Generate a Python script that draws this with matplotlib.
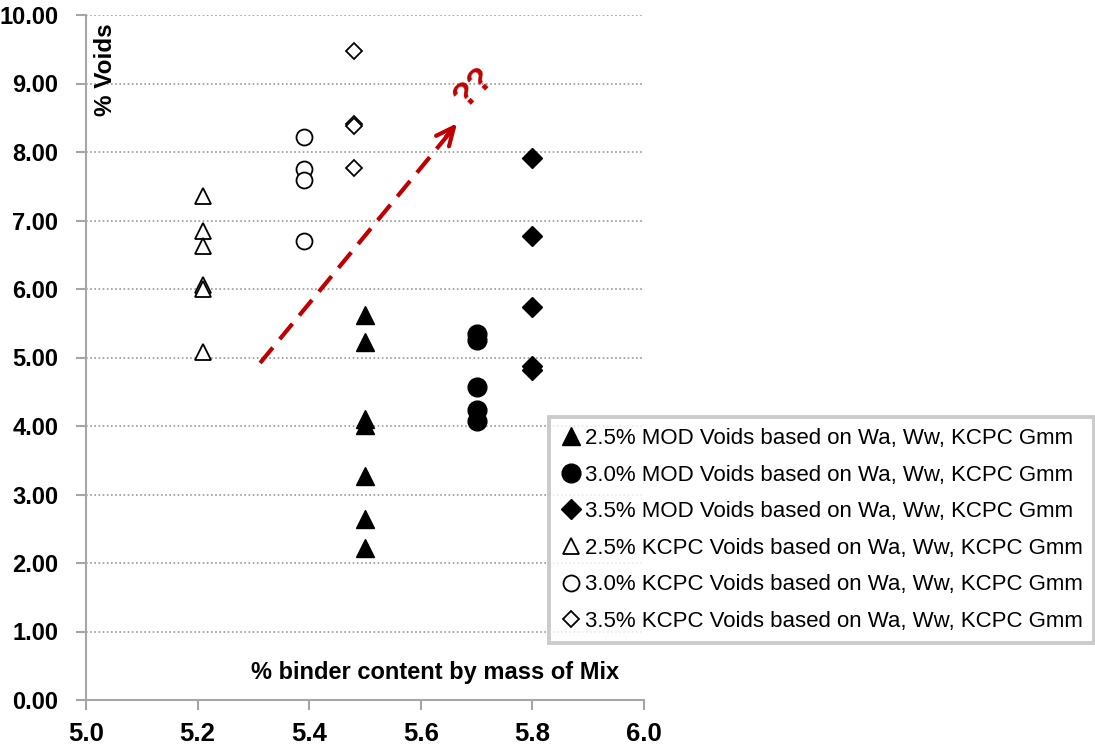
import matplotlib
matplotlib.use("Agg")
import matplotlib.pyplot as plt
from matplotlib.lines import Line2D

plt.rcParams["font.family"] = ["Liberation Sans", "DejaVu Sans"]

# ── Data ─────────────────────────────────────────────────────────────────────
mod25_x = [5.50, 5.50, 5.50, 5.50, 5.50, 5.50, 5.50]
mod25_y = [5.62, 5.23, 4.10, 4.01, 3.27, 2.64, 2.22]

mod30_x = [5.70, 5.70, 5.70, 5.70, 5.70]
mod30_y = [5.34, 5.25, 4.57, 4.24, 4.07]

mod35_x = [5.80, 5.80, 5.80, 5.80, 5.80]
mod35_y = [7.91, 6.78, 5.73, 4.87, 4.82]

kcpc25_x = [5.21, 5.21, 5.21, 5.21, 5.21, 5.21]
kcpc25_y = [7.36, 6.84, 6.63, 6.06, 6.00, 5.08]

kcpc30_x = [5.39, 5.39, 5.39, 5.39]
kcpc30_y = [8.22, 7.75, 7.59, 6.70]

kcpc35_x = [5.48, 5.48, 5.48, 5.48]
kcpc35_y = [9.47, 8.41, 8.38, 7.77]

labels = [
    "2.5% MOD Voids based on Wa, Ww, KCPC Gmm",
    "3.0% MOD Voids based on Wa, Ww, KCPC Gmm",
    "3.5% MOD Voids based on Wa, Ww, KCPC Gmm",
    "2.5% KCPC Voids based on Wa, Ww, KCPC Gmm",
    "3.0% KCPC Voids based on Wa, Ww, KCPC Gmm",
    "3.5% KCPC Voids based on Wa, Ww, KCPC Gmm",
]

# trend arrow (start, end) and the "??" note
arrow_start = (5.312, 4.92)
arrow_end = (5.665, 8.42)
note_xy = (5.694, 8.95)

RED = "#C00000"
AXIS_GREY = "#a6a6a6"

# ── Plot ─────────────────────────────────────────────────────────────────────
fig = plt.figure(figsize=(10.95, 7.53), dpi=100)
ax = fig.add_axes([86 / 1095, 53 / 753, 558 / 1095, 685 / 753])

series = [
    (mod25_x, mod25_y, "^", 13.5, "black", 1.0),
    (mod30_x, mod30_y, "o", 13.5, "black", 1.0),
    (mod35_x, mod35_y, "D", 10.0, "black", 1.0),
    (kcpc25_x, kcpc25_y, "^", 11.5, "white", 1.3),
    (kcpc30_x, kcpc30_y, "o", 11.5, "white", 1.3),
    (kcpc35_x, kcpc35_y, "D", 8.3, "white", 1.3),
]

handles = []
for (xs, ys, mk, ms, fc, mew), lab in zip(series, labels):
    ax.plot(xs, ys, linestyle="none", marker=mk, markersize=ms,
            markerfacecolor=fc, markeredgecolor="black",
            markeredgewidth=mew, zorder=3)
    handles.append(Line2D([], [], linestyle="none", marker=mk,
                          markersize=ms, markerfacecolor=fc,
                          markeredgecolor="black", markeredgewidth=mew,
                          label=lab))

ax.set_xlim(5.0, 6.0)
ax.set_ylim(0, 10)
ax.set_xticks([5.0, 5.2, 5.4, 5.6, 5.8, 6.0])
ax.set_yticks(range(0, 11))
ax.set_xticklabels([f"{v:.1f}" for v in ax.get_xticks()],
                   fontsize=18.5, fontweight="bold")
ax.set_yticklabels([f"{v:.2f}" for v in ax.get_yticks()],
                   fontsize=17, fontweight="bold")

ax.tick_params(axis="x", direction="out", length=7, width=1.5,
               color=AXIS_GREY, pad=9)
ax.tick_params(axis="y", direction="out", length=7, width=1.5,
               color=AXIS_GREY, pad=13)

ax.spines[["top", "right"]].set_visible(False)
ax.spines[["left", "bottom"]].set_color(AXIS_GREY)
ax.spines[["left", "bottom"]].set_linewidth(1.5)
ax.grid(axis="y", linestyle=(0, (1, 1.5)), linewidth=1.2, color="#999999")
ax.set_axisbelow(True)

# axis titles sit inside the plot area
ax.text(0.035, 0.92, "% Voids", transform=ax.transAxes, rotation=90,
        fontsize=17.5, fontweight="bold", ha="center", va="center")
ax.text(0.626, 0.04, "% binder content by mass of Mix",
        transform=ax.transAxes, fontsize=17, fontweight="bold",
        ha="center", va="center")

# dashed trend arrow with solid head
ax.plot([arrow_start[0], arrow_end[0] - 0.004], [arrow_start[1], arrow_end[1] - 0.05],
        color=RED, linewidth=3, dashes=(4.8, 2.6), solid_capstyle="butt",
        zorder=2)
ax.annotate("", xy=arrow_end, xytext=(arrow_end[0] - 0.02, arrow_end[1] - 0.2),
            arrowprops=dict(arrowstyle="->,head_length=1.3,head_width=0.6",
                            color=RED, lw=3, shrinkA=0, shrinkB=0))
ax.text(note_xy[0], note_xy[1], "??", color=RED, fontsize=25,
        fontweight="bold", rotation=45, ha="center", va="center")

leg = fig.legend(handles=handles, loc="upper left",
                 bbox_to_anchor=(549 / 1095, 1 - 417 / 753),
                 fontsize=16, frameon=True, fancybox=False,
                 handlelength=1.0, handletextpad=0.12, labelspacing=0.70,
                 borderpad=0.5, borderaxespad=0)
leg.get_frame().set_edgecolor("#bfbfbf")
leg.get_frame().set_linewidth(2.8)

fig.savefig("out.png", dpi=100, facecolor="white")
